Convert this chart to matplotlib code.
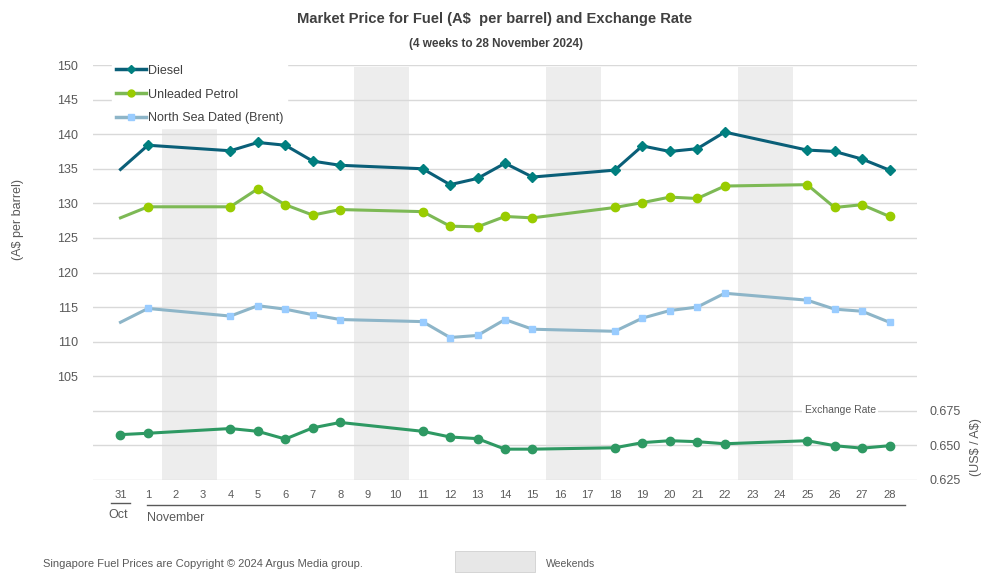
import numpy as np
import matplotlib
matplotlib.use("Agg")
import matplotlib.pyplot as plt
from matplotlib.transforms import blended_transform_factory
from matplotlib.patches import Rectangle
from matplotlib.lines import Line2D

plt.rcParams['font.family'] = ['Liberation Sans', 'DejaVu Sans']

# ---- data ----
day_labels = ['31', '1', '2', '3', '4', '5', '6', '7', '8', '9', '10', '11', '12', '13', '14',
              '15', '16', '17', '18', '19', '20', '21', '22', '23', '24', '25', '26', '27', '28']
nan = np.nan
diesel = [134.9, 138.4, nan, nan, 137.6, 138.8, 138.4, 136.1, 135.5, nan, nan, 135.0, 132.7, 133.6, 135.8,
          133.8, nan, nan, 134.8, 138.3, 137.5, 137.9, 140.3, nan, nan, 137.7, 137.5, 136.4, 134.8]
petrol = [127.9, 129.5, nan, nan, 129.5, 132.1, 129.8, 128.3, 129.1, nan, nan, 128.8, 126.7, 126.6, 128.1,
          127.9, nan, nan, 129.4, 130.1, 130.9, 130.7, 132.5, nan, nan, 132.7, 129.4, 129.8, 128.1]
brent = [112.8, 114.8, nan, nan, 113.7, 115.2, 114.7, 113.9, 113.2, nan, nan, 112.9, 110.6, 110.9, 113.2,
         111.8, nan, nan, 111.5, 113.4, 114.5, 115.0, 117.0, nan, nan, 116.0, 114.7, 114.4, 112.8]
fx_rate = [0.6578, 0.6588, nan, nan, 0.6622, 0.6602, 0.6546, 0.6627, 0.6666, nan, nan, 0.6602, 0.6561, 0.6549, 0.6473,
           0.6473, nan, nan, 0.6483, 0.6520, 0.6534, 0.6527, 0.6512, nan, nan, 0.6534, 0.6498, 0.6480, 0.6498]
weekends = [(2, 3), (9, 10), (16, 17), (23, 24)]  # index pairs (Nov days)
price_ticks = [90, 95, 100, 105, 110, 115, 120, 125, 130, 135, 140, 145, 150]
price_tick_labels = ['', '', '', '105', '110', '115', '120', '125', '130', '135', '140', '145', '150']
fx_ticks = [0.625, 0.650, 0.675]

x = np.arange(len(day_labels))

def valid(arr):
    a = np.array(arr, dtype=float)
    m = ~np.isnan(a)
    return x[m], a[m]

fig = plt.figure(figsize=(9.93, 5.88), dpi=100)
ax = fig.add_axes([93/993, 1-480/588, (917-93)/993, (480-65)/588])
ax.set_xlim(-1, 29)
ax.set_ylim(90, 150)

grey_txt = '#595959'
grid_c = '#D9D9D9'

# weekend shading
for a, b in weekends:
    ax.axvspan(a - 0.5, b + 0.5, ymin=0, ymax=(149.7-90)/60, color='#EDEDED', zorder=0, lw=0)

ax.set_yticks(price_ticks)
ax.set_yticklabels(price_tick_labels)
ax.grid(axis='y', color=grid_c, lw=1, zorder=1)
ax.set_axisbelow(True)
for s in ax.spines.values():
    s.set_visible(False)
ax.tick_params(axis='y', length=0, pad=11, labelsize=9, labelcolor=grey_txt)
ax.set_xticks(x)
ax.set_xticklabels(day_labels)
ax.tick_params(axis='x', length=0, pad=7, labelsize=8, labelcolor=grey_txt)

# series
xd, yd = valid(diesel)
ax.plot(xd, yd, color='#0A5F78', lw=2.2, zorder=3)
ax.plot(xd[1:], yd[1:], ls='none', marker='D', ms=4.6, color='#007F7F', zorder=4)
xp, yp = valid(petrol)
ax.plot(xp, yp, color='#7DB955', lw=2.2, zorder=3)
ax.plot(xp[1:], yp[1:], ls='none', marker='o', ms=6, color='#99CC00', zorder=4)
xb, yb = valid(brent)
ax.plot(xb, yb, color='#8DB5C8', lw=2.2, zorder=3)
ax.plot(xb[1:], yb[1:], ls='none', marker='s', ms=5, color='#99CCFF', zorder=4)

# legend
handles = [Line2D([], [], color='#0A5F78', lw=2.5, marker='D', ms=4, mfc='#007F7F', mec='#007F7F'),
           Line2D([], [], color='#7DB955', lw=2.5, marker='o', ms=5, mfc='#99CC00', mec='#99CC00'),
           Line2D([], [], color='#8DB5C8', lw=2.5, marker='s', ms=5, mfc='#99CCFF', mec='#99CCFF')]
leg = ax.legend(handles, ['Diesel', 'Unleaded Petrol', 'North Sea Dated (Brent)'],
                loc='upper left', bbox_to_anchor=(0.016, 1.025), frameon=True, fancybox=False,
                edgecolor='white', facecolor='white', framealpha=1, fontsize=9,
                handlelength=2.4, handletextpad=0.15, labelspacing=0.95, borderpad=0.3,
                labelcolor='#404040')
leg.set_zorder(5)

# exchange rate on right axis
ax2 = ax.twinx()
ax2.set_ylim(0.625, 0.625 + 60 / 200)
for s in ax2.spines.values():
    s.set_visible(False)
ax2.set_yticks(fx_ticks)
ax2.set_yticklabels([f'{t:.3f}' for t in fx_ticks])
ax2.tick_params(axis='y', length=0, pad=9, labelsize=9, labelcolor=grey_txt)
xf, yf = valid(fx_rate)
ax2.plot(xf, yf, color='#2E9963', lw=2.2, marker='o', ms=6, zorder=4)
ax2.text(26.2, 0.6756, 'Exchange Rate', ha='center', va='center', fontsize=7.5, color=grey_txt,
         bbox=dict(facecolor='white', edgecolor='none', pad=2))
ax2.set_ylabel(r'(US\$ / A\$)', color=grey_txt, fontsize=9)
ax2.yaxis.set_label_coords(1.064, 0.08)

# left axis label
fig.text(18/993, 1-220/588, '(A$ per barrel)', rotation=90, ha='center', va='center',
         fontsize=9, color=grey_txt)

# month groupings
tr = blended_transform_factory(ax.transData, fig.transFigure)
ax.plot([-0.33, 0.33], [1-503/588]*2, transform=tr, color='#595959', lw=1, clip_on=False)
ax.plot([0.95, 28.55], [1-505/588]*2, transform=tr, color='#595959', lw=1, clip_on=False)
ax.text(-0.1, 1-515/588, 'Oct', transform=tr, ha='center', va='center', fontsize=9, color=grey_txt)
ax.text(0.95, 1-518/588, 'November', transform=tr, ha='left', va='center', fontsize=9, color=grey_txt)

# titles
fig.text(495/993, 1-19/588, 'Market Price for Fuel (A$  per barrel) and Exchange Rate',
         ha='center', va='center', fontsize=10.6, fontweight='bold', color='#404040')
fig.text(496/993, 1-44/588, '(4 weeks to 28 November 2024)',
         ha='center', va='center', fontsize=8.5, fontweight='bold', color='#404040')

# footer
fig.text(43/993, 1-564/588, 'Singapore Fuel Prices are Copyright \u00a9 2024 Argus Media group.',
         ha='left', va='center', fontsize=8, color=grey_txt)
fig.patches.append(Rectangle((455/993, 1-572/588), 80/993, 21/588, transform=fig.transFigure,
                             facecolor='#E7E7E7', edgecolor='#D0D0D0', lw=0.6))
fig.text(546/993, 1-564/588, 'Weekends', ha='left', va='center', fontsize=7.5, color=grey_txt)

fig.savefig('out.png', dpi=100, facecolor='white')
